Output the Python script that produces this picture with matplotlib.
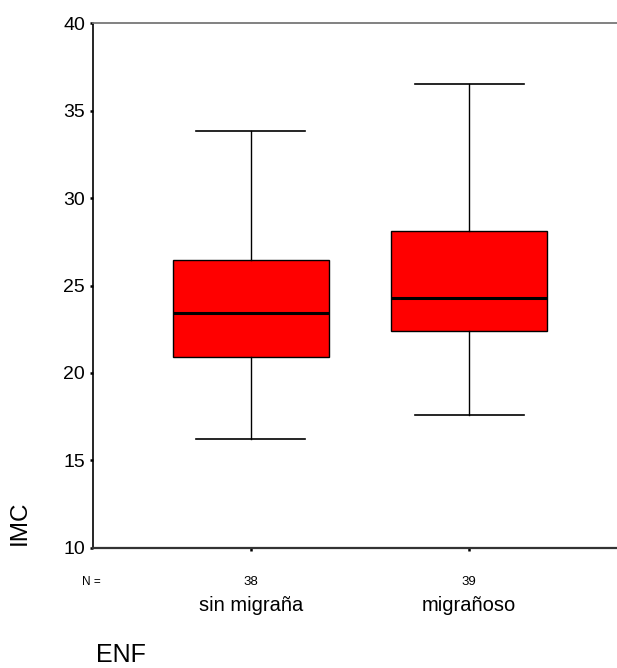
import matplotlib
matplotlib.use("Agg")
import matplotlib.pyplot as plt

plt.rcParams['font.family'] = ['Liberation Sans', 'DejaVu Sans']

# values
groups = ["sin migraña", "migrañoso"]
n_cases = [38, 39]
whisker_low = [16.25, 17.6]
q1 = [20.93, 22.4]
median = [23.45, 24.3]
q3 = [26.45, 28.1]
whisker_high = [33.85, 36.55]

stats = []
for i in range(len(groups)):
    stats.append({
        "label": groups[i],
        "whislo": whisker_low[i],
        "q1": q1[i],
        "med": median[i],
        "q3": q3[i],
        "whishi": whisker_high[i],
        "fliers": [],
    })

fig = plt.figure(figsize=(6.17, 6.68), dpi=100)
ax = fig.add_axes([0.1502, 0.180, 0.8498, 0.785])

positions = [1, 2]
ax.bxp(stats, positions=positions, widths=0.714, patch_artist=True,
       showfliers=False,
       boxprops=dict(facecolor="#ff0000", edgecolor="black", linewidth=1.0),
       medianprops=dict(color="black", linewidth=2.2),
       whiskerprops=dict(color="black", linewidth=1.0),
       capprops=dict(color="black", linewidth=1.2),
       capwidths=0.5)

ax.set_xlim(0.277, 2.676)
ax.set_ylim(10, 40)
ax.set_yticks([10, 15, 20, 25, 30, 35, 40])
ax.tick_params(axis="y", direction="out", length=2.5, width=1.8, labelsize=14, pad=3)

ax.set_xticks(positions)
ax.set_xticklabels(groups, fontsize=14.5)
ax.tick_params(axis="x", direction="out", length=2.5, width=1.8, pad=32)

ax.spines["right"].set_visible(False)
ax.spines["top"].set_color("#777777")
ax.spines["top"].set_linewidth(1.3)
ax.spines["bottom"].set_color("#333333")
ax.spines["bottom"].set_linewidth(1.6)
ax.spines["left"].set_color("black")
ax.spines["left"].set_linewidth(1.2)

# case counts under each box
for p, n in zip(positions, n_cases):
    ax.annotate(str(n), xy=(p, 0), xycoords=("data", "axes fraction"),
                xytext=(0, -25), textcoords="offset points",
                ha="center", va="center", fontsize=9.5)
ax.annotate("N =", xy=(0, 0), xycoords="axes fraction",
            xytext=(-1, -25), textcoords="offset points",
            ha="center", va="center", fontsize=8.5)

fig.text(96 / 617, 1 - 662 / 668, "ENF", fontsize=18, ha="left", va="baseline")
fig.text(20 / 617, 1 - 523 / 668, "IMC", fontsize=17.5, rotation=90,
         ha="center", va="center")

fig.savefig("out.png", dpi=100)
